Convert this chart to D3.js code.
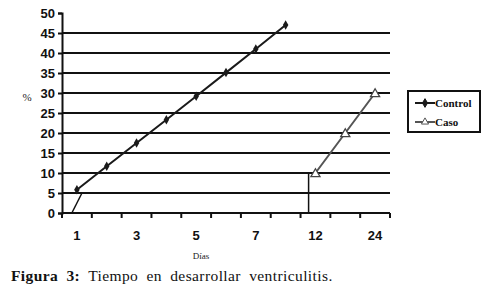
<!DOCTYPE html>
<html>
<head>
<meta charset="utf-8">
<script src="https://cdn.jsdelivr.net/npm/d3@7"></script>
<style>
  body { margin: 0; background: #fff; }
  svg { display: block; }
  .serif { font-family: "Liberation Serif", "Times New Roman", "DejaVu Serif", serif; }
  .sans { font-family: "Liberation Sans", Arial, sans-serif; }
</style>
</head>
<body>
<svg id="chart" width="498" height="297"></svg>
<script>
// categories on the x axis (only every other one is labelled in the original)
const days = ["1", "2", "3", "4", "5", "6", "7", "8", "12", "18", "24"]
const shownDays = ["1", "3", "5", "7", "12", "24"]
const yTicks = [0, 5, 10, 15, 20, 25, 30, 35, 40, 45, 50]

// series values
const controlDays = ["1", "2", "3", "4", "5", "6", "7", "8"]
const controlVals = [5.8, 11.7, 17.5, 23.3, 29.2, 35.1, 41, 47]
const casoDays = ["12", "18", "24"]
const casoVals = [10, 20, 30]

// stray drop lines in the original (category position, value)
const strays = [
  [[-0.17, 0], [0.17, 5]],
  [[7.77, 0], [7.77, 10]]
]

const width = 498, height = 297
const margin = {top: 13, right: 108, bottom: 84, left: 62}

const svg = d3.select("#chart")

const x = d3.scalePoint()
    .domain(days)
    .range([margin.left, width - margin.right])
    .padding(0.5)

const xi = d3.scaleLinear()
    .domain([-0.5, days.length - 0.5])
    .range([margin.left, width - margin.right])

const y = d3.scaleLinear()
    .domain([0, 50])
    .range([height - margin.bottom, margin.top])

// gridlines
svg.append("g")
  .selectAll("line")
  .data(yTicks.filter(d => d > 0 && d < 50))
  .join("line")
    .attr("x1", margin.left).attr("x2", width - margin.right)
    .attr("y1", d => y(d)).attr("y2", d => y(d))
    .attr("stroke", "#111").attr("stroke-width", 2)

// y axis
svg.append("g")
    .attr("transform", `translate(${margin.left},0)`)
    .call(d3.axisLeft(y).tickValues(yTicks).tickSize(4).tickPadding(3))
    .call(g => g.select(".domain").attr("stroke", "#111").attr("stroke-width", 2))
    .call(g => g.selectAll(".tick line").attr("stroke", "#111").attr("stroke-width", 2))
    .call(g => g.selectAll("text")
      .attr("class", "sans").attr("font-family", null)
      .attr("font-weight", "bold").attr("font-size", 13).attr("fill", "#111"))

// x axis: ticks between categories
const boundaries = d3.range(days.length + 1)
svg.append("g")
  .selectAll("line")
  .data(boundaries)
  .join("line")
    .attr("x1", d => xi(d - 0.5)).attr("x2", d => xi(d - 0.5))
    .attr("y1", y(0)).attr("y2", y(0) + 5)
    .attr("stroke", "#111").attr("stroke-width", 2)
svg.append("line")
    .attr("x1", margin.left).attr("x2", width - margin.right)
    .attr("y1", y(0)).attr("y2", y(0))
    .attr("stroke", "#111").attr("stroke-width", 2)
svg.append("g")
  .selectAll("text")
  .data(shownDays)
  .join("text")
    .attr("class", "sans")
    .attr("x", d => x(d)).attr("y", y(0) + 27)
    .attr("text-anchor", "middle")
    .attr("font-weight", "bold").attr("font-size", 13).attr("fill", "#111")
    .text(d => d)

// stray lines
svg.append("g")
  .selectAll("line")
  .data(strays)
  .join("line")
    .attr("x1", d => xi(d[0][0])).attr("y1", d => y(d[0][1]))
    .attr("x2", d => xi(d[1][0])).attr("y2", d => y(d[1][1]))
    .attr("stroke", "#111").attr("stroke-width", 1.5)

// series
const control = controlDays.map((d, i) => ({d, v: controlVals[i]}))
const caso = casoDays.map((d, i) => ({d, v: casoVals[i]}))
const line = d3.line().x(p => x(p.d)).y(p => y(p.v))

svg.append("path").datum(control)
    .attr("d", line).attr("fill", "none")
    .attr("stroke", "#1a1a1a").attr("stroke-width", 2)
svg.append("g").selectAll("path")
  .data(control)
  .join("path")
    .attr("transform", p => `translate(${x(p.d)},${y(p.v)})`)
    .attr("d", d3.symbol(d3.symbolDiamond, 26))
    .attr("fill", "#1a1a1a")

svg.append("path").datum(caso)
    .attr("d", line).attr("fill", "none")
    .attr("stroke", "#555").attr("stroke-width", 2)
svg.append("g").selectAll("path")
  .data(caso)
  .join("path")
    .attr("transform", p => `translate(${x(p.d)},${y(p.v) + 1})`)
    .attr("d", d3.symbol(d3.symbolTriangle, 36))
    .attr("fill", "#fff").attr("stroke", "#444").attr("stroke-width", 1.3)

// y title
svg.append("text")
    .attr("class", "serif")
    .attr("x", 27).attr("y", 101)
    .attr("text-anchor", "middle")
    .attr("font-size", 11).attr("fill", "#222")
    .text("%")

// x title
svg.append("text")
    .attr("class", "serif")
    .attr("x", 201).attr("y", 259)
    .attr("text-anchor", "middle")
    .attr("font-size", 9).attr("fill", "#222")
    .text("Días")

// legend
const legend = svg.append("g").attr("transform", "translate(408,91)")
legend.append("rect")
    .attr("width", 72).attr("height", 41)
    .attr("fill", "#fff").attr("stroke", "#111").attr("stroke-width", 2)
const legendItems = [
  {name: "Control", color: "#1a1a1a", sym: d3.symbolDiamond, fill: "#1a1a1a"},
  {name: "Caso", color: "#555", sym: d3.symbolTriangle, fill: "#fff"}
]
const li = legend.selectAll("g.item")
  .data(legendItems)
  .join("g")
    .attr("transform", (d, i) => `translate(0,${12 + i * 19})`)
li.append("line")
    .attr("x1", 7).attr("x2", 27)
    .attr("stroke", d => d.color).attr("stroke-width", 2)
li.append("path")
    .attr("transform", "translate(17,0)")
    .attr("d", d => d3.symbol(d.sym, 22)())
    .attr("fill", d => d.fill).attr("stroke", d => d.color)
li.append("text")
    .attr("class", "serif")
    .attr("x", 27).attr("y", 3.5)
    .attr("font-weight", "bold").attr("font-size", 11).attr("fill", "#111")
    .text(d => d.name)

// caption
const cap = svg.append("text")
    .attr("class", "serif")
    .attr("x", 11).attr("y", 281)
    .attr("font-size", 15.5)
    .attr("fill", "#111").attr("word-spacing", 4).attr("letter-spacing", 0.4)
cap.append("tspan").attr("font-weight", "bold").text("Figura 3:")
cap.append("tspan").text(" Tiempo en desarrollar ventriculitis.")
</script>
</body>
</html>
